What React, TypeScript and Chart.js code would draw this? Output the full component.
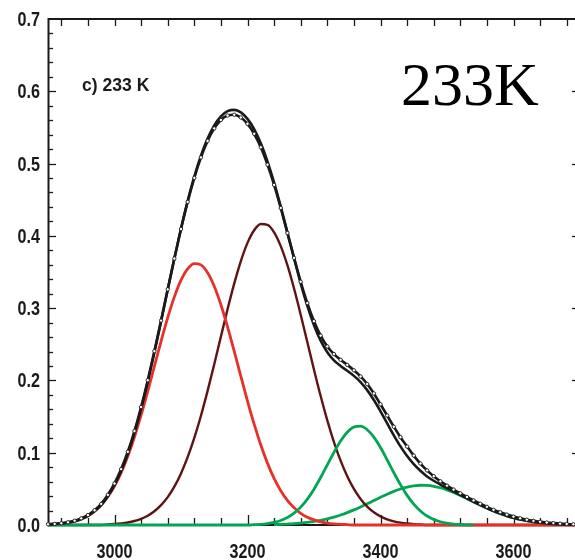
import { useEffect, useRef } from "react";
import { Chart, registerables } from "chart.js";

Chart.register(...registerables);

// Wavenumber grid (cm^-1)
const xGrid = [
  2900, 2910, 2920, 2930, 2940, 2950, 2960, 2970, 2980, 2990,
  3000, 3010, 3020, 3030, 3040, 3050, 3060, 3070, 3080, 3090,
  3100, 3110, 3120, 3130, 3140, 3150, 3160, 3170, 3180, 3190,
  3200, 3210, 3220, 3230, 3240, 3250, 3260, 3270, 3280, 3290,
  3300, 3310, 3320, 3330, 3340, 3350, 3360, 3370, 3380, 3390,
  3400, 3410, 3420, 3430, 3440, 3450, 3460, 3470, 3480, 3490,
  3500, 3510, 3520, 3530, 3540, 3550, 3560, 3570, 3580, 3590,
  3600, 3610, 3620, 3630, 3640, 3650, 3660, 3670, 3680, 3690,
  3700,
];

// Measured spectrum (open circles)
const measured = [
  0.0010, 0.0015, 0.0024, 0.0038, 0.0060, 0.0092, 0.0138, 0.0204, 0.0292, 0.0418,
  0.0575, 0.0773, 0.1013, 0.1300, 0.1632, 0.2003, 0.2405, 0.2828, 0.3260, 0.3686,
  0.4094, 0.4470, 0.4802, 0.5085, 0.5313, 0.5487, 0.5603, 0.5665, 0.5676, 0.5638,
  0.5550, 0.5412, 0.5225, 0.4985, 0.4705, 0.4385, 0.4040, 0.3695, 0.3365, 0.3070,
  0.2820, 0.2620, 0.2470, 0.2365, 0.2285, 0.2215, 0.2140, 0.2055, 0.1950, 0.1820,
  0.1670, 0.1515, 0.1360, 0.1215, 0.1085, 0.0960, 0.0850, 0.0755, 0.0675, 0.0605,
  0.0545, 0.0490, 0.0438, 0.0388, 0.0340, 0.0294, 0.0251, 0.0211, 0.0176, 0.0144,
  0.0116, 0.0093, 0.0073, 0.0057, 0.0044, 0.0034, 0.0026, 0.0019, 0.0014, 0.0010,
  0.0008,
];

// Total fit (black line)
const sumFit = [
  0.0007, 0.0012, 0.0020, 0.0033, 0.0053, 0.0083, 0.0127, 0.0190, 0.0275, 0.0398,
  0.0551, 0.0747, 0.0986, 0.1273, 0.1606, 0.1979, 0.2386, 0.2815, 0.3254, 0.3687,
  0.4101, 0.4482, 0.4821, 0.5110, 0.5345, 0.5527, 0.5653, 0.5725, 0.5743, 0.5709,
  0.5618, 0.5477, 0.5280, 0.5029, 0.4736, 0.4404, 0.4050, 0.3690, 0.3344, 0.3031,
  0.2764, 0.2550, 0.2391, 0.2278, 0.2200, 0.2133, 0.2063, 0.1978, 0.1866, 0.1729,
  0.1573, 0.1406, 0.1241, 0.1088, 0.0954, 0.0842, 0.0750, 0.0672, 0.0612, 0.0560,
  0.0510, 0.0463, 0.0416, 0.0368, 0.0320, 0.0276, 0.0233, 0.0193, 0.0158, 0.0126,
  0.0099, 0.0076, 0.0058, 0.0043, 0.0031, 0.0023, 0.0016, 0.0011, 0.0007, 0.0005,
  0.0003,
];

// Component 1 (red)
const redFit = [
  0.0007, 0.0012, 0.0020, 0.0033, 0.0053, 0.0083, 0.0127, 0.0190, 0.0275, 0.0390,
  0.0538, 0.0725, 0.0951, 0.1218, 0.1520, 0.1850, 0.2196, 0.2541, 0.2868, 0.3156,
  0.3387, 0.3544, 0.3616, 0.3598, 0.3490, 0.3303, 0.3047, 0.2741, 0.2404, 0.2057,
  0.1715, 0.1395, 0.1107, 0.0856, 0.0645, 0.0475, 0.0340, 0.0238, 0.0162, 0.0108,
  0.0070, 0.0044, 0.0027, 0.0016, 0.0010, 0.0005, 0, 0, 0, 0,
  0, 0, 0, 0, 0, 0, 0, 0, 0, 0,
  0, 0, 0, 0, 0, 0, 0, 0, 0, 0,
  0, 0, 0, 0, 0, 0, 0, 0, 0, 0,
  0,
];

// Component 2 (dark brown)
const brownFit = [
  0, 0, 0, 0, 0, 0, 0, 0, 0, 0.0008,
  0.0013, 0.0022, 0.0035, 0.0055, 0.0086, 0.0129, 0.0190, 0.0274, 0.0386, 0.0531,
  0.0714, 0.0938, 0.1205, 0.1512, 0.1855, 0.2224, 0.2606, 0.2984, 0.3339, 0.3652,
  0.3903, 0.4077, 0.4163, 0.4153, 0.4049, 0.3858, 0.3594, 0.3271, 0.2909, 0.2529,
  0.2149, 0.1784, 0.1448, 0.1148, 0.0890, 0.0674, 0.0499, 0.0361, 0.0255, 0.0176,
  0.0119, 0.0079, 0.0051, 0.0032, 0.0020, 0.0012, 0.0007, 0, 0, 0,
  0, 0, 0, 0, 0, 0, 0, 0, 0, 0,
  0, 0, 0, 0, 0, 0, 0, 0, 0, 0,
  0,
];

// Component 3 (green, 2900..3540)
const green1Fit = [
  0, 0, 0, 0, 0, 0, 0, 0, 0, 0,
  0, 0, 0, 0, 0, 0, 0, 0, 0, 0,
  0, 0, 0, 0, 0, 0, 0, 0, 0, 0,
  0, 0.0005, 0.0010, 0.0020, 0.0036, 0.0062, 0.0103, 0.0163, 0.0247, 0.0358,
  0.0496, 0.0657, 0.0831, 0.1005, 0.1162, 0.1283, 0.1355, 0.1367, 0.1318, 0.1215,
  0.1071, 0.0901, 0.0725, 0.0558, 0.0410, 0.0288, 0.0193, 0.0124, 0.0076, 0.0045,
  0.0025, 0.0013, 0.0007, 0.0003, 0,
];

// Component 4 (green, 3240..3700)
const green2Fit = [
  0.0006, 0.0009, 0.0013, 0.0018, 0.0026, 0.0036, 0.0049, 0.0065, 0.0085, 0.0109,
  0.0138, 0.0171, 0.0209, 0.0250, 0.0293, 0.0338, 0.0383, 0.0426, 0.0465, 0.0498,
  0.0524, 0.0542, 0.0550, 0.0548, 0.0536, 0.0515, 0.0485, 0.0450, 0.0409, 0.0365,
  0.0320, 0.0276, 0.0233, 0.0193, 0.0158, 0.0126, 0.0099, 0.0076, 0.0058, 0.0043,
  0.0031, 0.0023, 0.0016, 0.0011, 0.0007, 0.0005, 0.0003,
];

const xTickLabels = ["3000", "3200", "3400", "3600"];
const xTickValues = [
  2920, 2960, 3000, 3040, 3080, 3120, 3160, 3200, 3240, 3280,
  3320, 3360, 3400, 3440, 3480, 3520, 3560, 3600, 3640, 3680,
];
const yTickLabels = ["0.0", "0.1", "0.2", "0.3", "0.4", "0.5", "0.6", "0.7"];
const panelLabel = "c) 233 K";
const bigLabel = "233K";

const green1X = xGrid.slice(0, green1Fit.length);
const green2X = xGrid.slice(xGrid.length - green2Fit.length);

const pts = (xs: number[], ys: number[]) => ys.map((v, i) => ({ x: xs[i], y: v }));

const SANS = "'Liberation Sans', Arial, sans-serif";
const SQUEEZE = 0.83;

const framePlugin = {
  id: "frameTicks",
  beforeDatasetsDraw(chart: any) {
    const { ctx, chartArea: a, scales } = chart;
    const x = scales.x;
    const y = scales.y;
    ctx.save();
    ctx.strokeStyle = "#1a1a1a";
    ctx.lineWidth = 2;
    ctx.strokeRect(a.left + 0.5, a.top, a.right - a.left, a.bottom - a.top);
    ctx.lineWidth = 1.3;
    const seg = (x1: number, y1: number, x2: number, y2: number) => {
      ctx.beginPath();
      ctx.moveTo(x1, y1);
      ctx.lineTo(x2, y2);
      ctx.stroke();
    };
    x.ticks.forEach((t: any) => {
      const v = t.value;
      if (v <= x.min || v >= x.max) return;
      const px = Math.round(x.getPixelForValue(v)) + 0.5;
      const major = xTickLabels.some((l) => Number(l) === v);
      seg(px, a.bottom, px, a.bottom - (major ? 10 : 7));
      seg(px, a.top, px, a.top + 7);
    });
    y.ticks.forEach((t: any) => {
      const v = t.value;
      if (v <= y.min + 1e-9 || v >= y.max - 1e-9) return;
      const py = Math.round(y.getPixelForValue(v)) + 0.5;
      const major = yTickLabels.some((l) => Math.abs(Number(l) - v) < 1e-6);
      const len = major ? 8 : 5;
      seg(a.left, py, a.left + len, py);
      seg(a.right, py, a.right - len, py);
    });

    // condensed bold tick labels
    ctx.fillStyle = "#1a1a1a";
    ctx.font = `bold 19.5px ${SANS}`;
    ctx.textBaseline = "alphabetic";
    yTickLabels.forEach((l) => {
      const py = y.getPixelForValue(Number(l));
      ctx.save();
      ctx.translate(a.left - 8, py + 7);
      ctx.scale(SQUEEZE, 1);
      ctx.textAlign = "right";
      ctx.fillText(l, 0, 0);
      ctx.restore();
    });
    xTickLabels.forEach((l) => {
      const px = x.getPixelForValue(Number(l));
      ctx.save();
      ctx.translate(px, a.bottom + 32.5);
      ctx.scale(SQUEEZE, 1);
      ctx.textAlign = "center";
      ctx.fillText(l, 0, 0);
      ctx.restore();
    });
    ctx.restore();
  },
  afterDraw(chart: any) {
    const { ctx } = chart;
    ctx.save();
    ctx.fillStyle = "#1a1a1a";
    ctx.textBaseline = "alphabetic";
    ctx.textAlign = "left";
    ctx.save();
    ctx.translate(82, 90.5);
    ctx.scale(0.95, 1);
    ctx.font = `bold 18.5px ${SANS}`;
    ctx.fillText(panelLabel, 0, 0);
    ctx.restore();
    ctx.fillStyle = "#000";
    ctx.font = "62px 'Liberation Serif', 'Times New Roman', serif";
    ctx.fillText(bigLabel, 401, 105);
    ctx.restore();
  },
};

export default function App() {
  const ref = useRef<HTMLCanvasElement | null>(null);

  useEffect(() => {
    if (!ref.current) return;
    const lineDs = (label: string, data: any[], color: string, width: number) => ({
      label,
      data,
      borderColor: color,
      backgroundColor: color,
      borderWidth: width,
      pointRadius: 0,
      cubicInterpolationMode: "monotone" as const,
      clip: false as const,
      fill: false,
    });
    const chart = new Chart(ref.current, {
      type: "line",
      data: {
        datasets: [
          {
            label: "measured",
            data: pts(xGrid, measured),
            borderColor: "#1a1a1a",
            borderWidth: 2.6,
            pointRadius: 1.7,
            pointBorderWidth: 0.9,
            pointBorderColor: "#1a1a1a",
            pointBackgroundColor: "#ffffff",
            cubicInterpolationMode: "monotone",
            clip: false,
            fill: false,
          },
          lineDs("fit", pts(xGrid, sumFit), "#1a1a1a", 2.6),
          lineDs("band 3", pts(green1X, green1Fit), "#00a651", 2.8),
          lineDs("band 1", pts(xGrid, redFit), "#e8302b", 2.8),
          lineDs("band 2", pts(xGrid, brownFit), "#5e1414", 2.4),
          lineDs("band 4", pts(green2X, green2Fit), "#00a651", 2.8),
        ] as any,
      },
      options: {
        animation: false,
        responsive: false,
        devicePixelRatio: 1,
        layout: { padding: { top: 19, right: 20, left: 0, bottom: 0 } },
        plugins: { legend: { display: false }, tooltip: { enabled: false } },
        scales: {
          x: {
            type: "linear",
            min: 2900,
            max: 3700,
            grid: { display: false },
            border: { display: false },
            afterFit: (s: any) => {
              s.height = 35;
            },
            afterBuildTicks: (s: any) => {
              s.ticks = xTickValues.map((v) => ({ value: v }));
            },
            ticks: { display: false, autoSkip: false },
          },
          y: {
            type: "linear",
            min: 0,
            max: 0.7,
            grid: { display: false },
            border: { display: false },
            afterFit: (s: any) => {
              s.width = 48;
            },
            ticks: { display: false, stepSize: 0.02, autoSkip: false },
          },
        },
      },
      plugins: [framePlugin],
    });
    return () => chart.destroy();
  }, []);

  return (
    <div
      style={{
        position: "fixed",
        left: 0,
        top: 0,
        width: 575,
        height: 560,
        overflow: "hidden",
        background: "#fff",
      }}
    >
      <canvas ref={ref} width={600} height={560} style={{ width: 600, height: 560, display: "block" }} />
    </div>
  );
}
